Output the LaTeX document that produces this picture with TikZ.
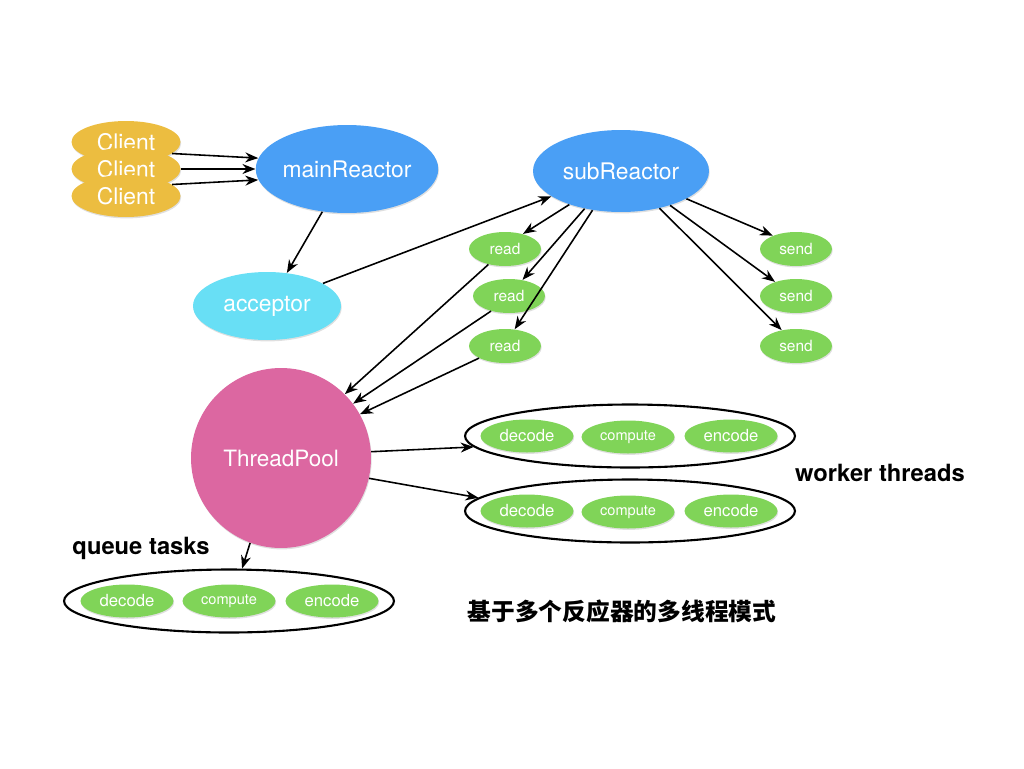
\documentclass[tikz,border=0pt]{standalone}
\usepackage{fontspec}
\setmainfont{TeX Gyre Heros}
\newfontfamily\cjk{Noto Sans CJK SC}
\usepackage{tikz}
\usetikzlibrary{shapes.geometric,arrows.meta,shadows,positioning}
\definecolor{clientcolor}{RGB}{236,189,64}
\definecolor{reactorcolor}{RGB}{74,159,245}
\definecolor{acceptorcolor}{RGB}{104,223,245}
\definecolor{poolcolor}{RGB}{220,103,161}
\definecolor{taskcolor}{RGB}{128,212,88}

\begin{document}
\begin{tikzpicture}[
        x=0.02cm, y=-0.02cm,
        shade/.style={drop shadow={opacity=0.25, shadow xshift=0.4pt, shadow yshift=-0.8pt}},
        client/.style={ellipse, fill=clientcolor, shade, text=white, minimum width=2.18cm, minimum height=0.84cm, inner sep=0pt, font=\fontsize{13}{15}\selectfont},
        reactor/.style={ellipse, fill=reactorcolor, shade, text=white, minimum width=3.5cm, minimum height=1.7cm, inner sep=0pt, font=\fontsize{13}{15}\selectfont},
        small/.style={ellipse, fill=taskcolor, shade, text=white, minimum width=1.44cm, minimum height=0.68cm, inner sep=0pt, font=\fontsize{8.8}{10}\selectfont},
        task/.style={ellipse, fill=taskcolor, shade, text=white, minimum width=1.86cm, minimum height=0.66cm, inner sep=0pt, font=\fontsize{9.5}{11}\selectfont},
        group/.style={ellipse, draw=black, line width=1.2pt, fill=white, minimum width=6.6cm, minimum height=1.26cm, inner sep=0pt},
        label/.style={font=\bfseries\fontsize{13.5}{16}\selectfont},
        link/.style={-{Stealth[length=2.6mm,width=2mm]}, line width=0.9pt}
    ]
        \useasboundingbox (0,0) rectangle (1024,768);

        \node[client] (c1) at (126,142) {Client};
        \node[client] (c2) at (126,169) {Client};
        \node[client] (c3) at (126,196) {Client};
        \node[reactor, minimum width=3.48cm, minimum height=1.76cm] (main) at (347,169) {mainReactor};
        \node[reactor, fill=acceptorcolor, minimum width=2.96cm, minimum height=1.36cm] (acc) at (267,306) {acceptor};
        \node[reactor, minimum width=3.52cm, minimum height=1.64cm] (sub) at (621,171) {subReactor};

        \node[small] (r1) at (505,249) {read};
        \node[small] (r2) at (509,296) {read};
        \node[small] (r3) at (505,346) {read};
        \node[small] (s1) at (796,249) {send};
        \node[small] (s2) at (796,296) {send};
        \node[small] (s3) at (796,346) {send};

        \node[circle, fill=poolcolor, shade, text=white, minimum size=3.6cm, inner sep=0pt, font=\fontsize{12.8}{15}\selectfont] (pool) at (281,458) {ThreadPool};

        % worker threads and queue tasks
        \node[group] (w1) at (630,436) {};
        \node[task] (w1d) at (527,436) {decode};
        \node[task, font=\fontsize{8.3}{10}\selectfont] (w1c) at (628,437) {compute};
        \node[task] (w1e) at (731,436) {encode};
        \node[group] (w2) at (630,511) {};
        \node[task] (w2d) at (527,511) {decode};
        \node[task, font=\fontsize{8.3}{10}\selectfont] (w2c) at (628,512) {compute};
        \node[task] (w2e) at (731,511) {encode};
        \node[group] (q) at (229,601) {};
        \node[task] (qd) at (127,601) {decode};
        \node[task, font=\fontsize{8.3}{10}\selectfont] (qc) at (229,601) {compute};
        \node[task] (qe) at (332,601) {encode};

        \node[label] (wlabel) at (880,473) {worker threads};
        \node[label] (qlabel) at (141,548) {queue tasks};
        \node[font=\cjk\bfseries\fontsize{13.5}{16}\selectfont] (title) at (622,611) {基于多个反应器的多线程模式};

        \draw[link] (c1.-14) -- (main.173);
        \draw[link] (c2.east) -- (main.180);
        \draw[link] (c3.14) -- (main.187);
        \draw[link] (main.240) -- (acc.59);
        \draw[link] (acc.22) -- (sub.200);
        \draw[link] (sub.213) -- (r1.40);
        \draw[link] (sub.226) -- (r2.50);
        \draw[link] (sub.234) -- (r3.60);
        \draw[link] (r1.223) -- (pool.45);
        \draw[link] (r2.220) -- (pool.37);
        \draw[link] (r3.205) -- (pool.29);
        \draw[link] (sub.337) -- (s1.150);
        \draw[link] (sub.325) -- (s2.146);
        \draw[link] (sub.316) -- (s3.132);
        \draw[link] (pool.4) -- (w1.184);
        \draw[link] (pool.-13) -- (w2.175);
        \draw[link] (pool.250) -- (q.68);
    \end{tikzpicture}
\end{document}
